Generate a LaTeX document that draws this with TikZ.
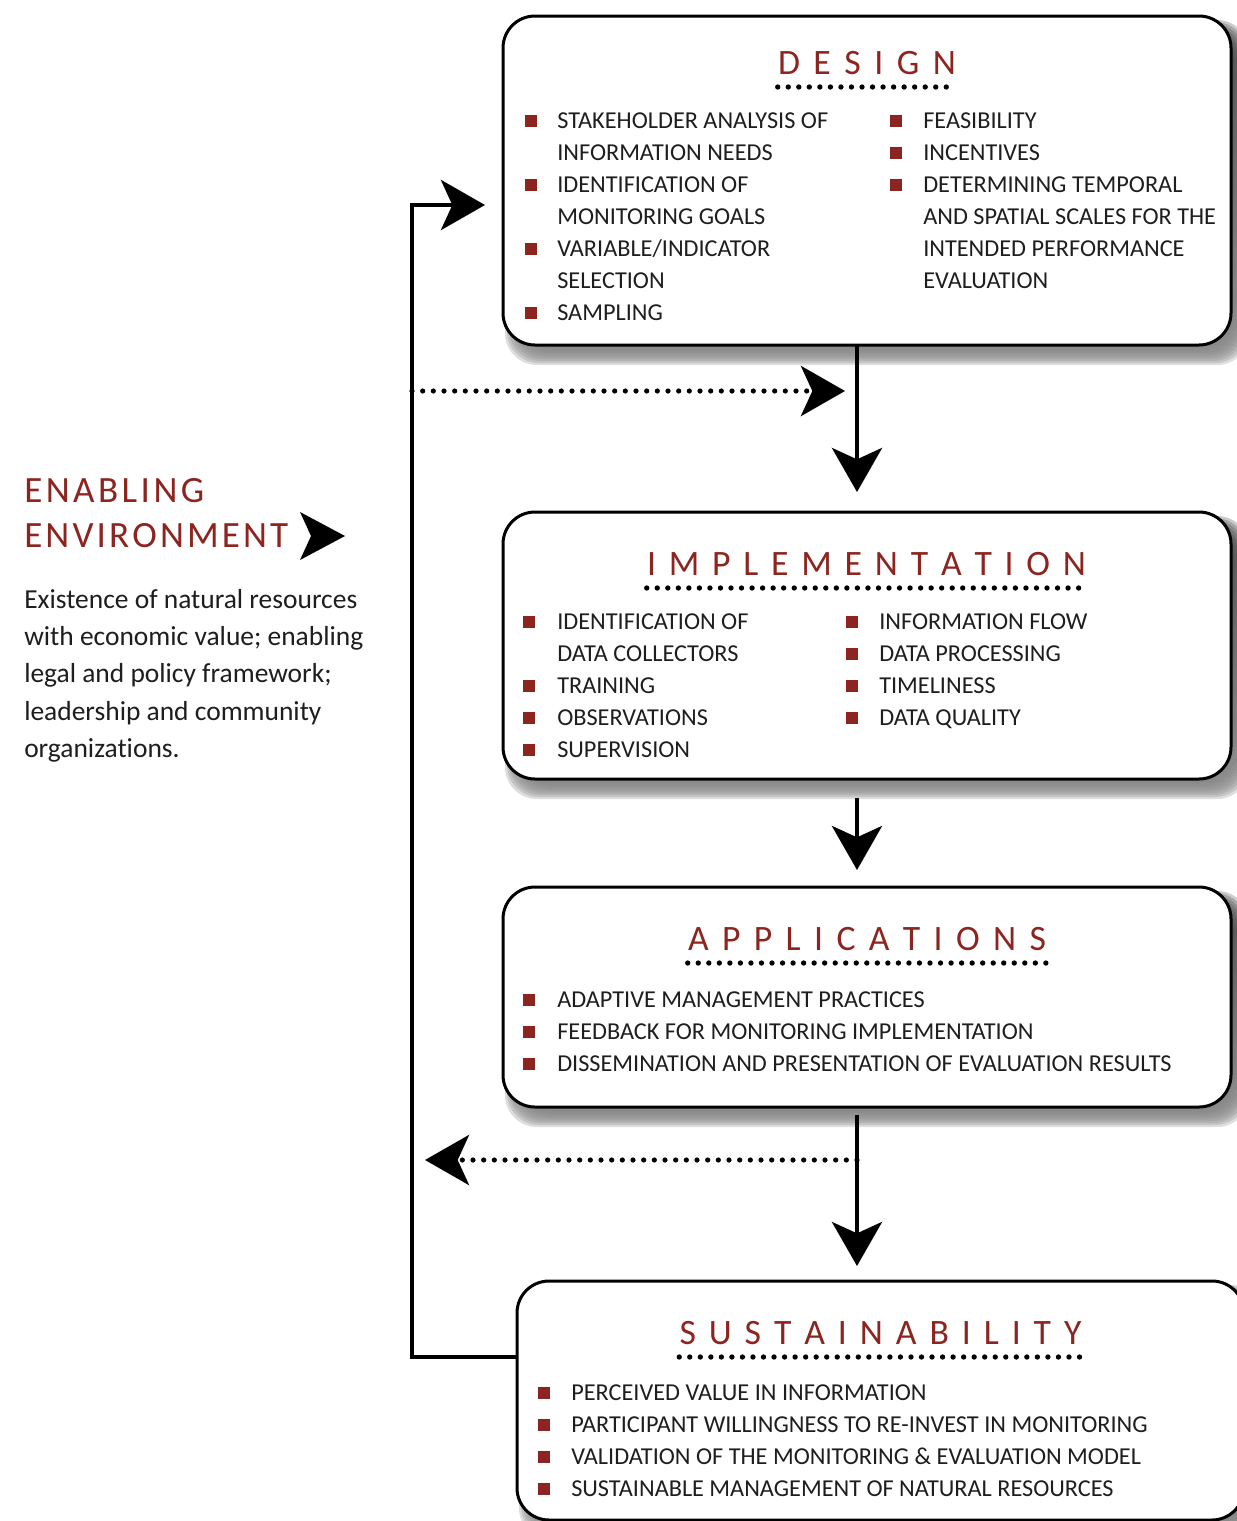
\documentclass[tikz,border=0pt]{standalone}
\usepackage{fontspec}
\setmainfont{Carlito}[Ligatures=NoCommon]
\usetikzlibrary{arrows.meta}
\definecolor{brick}{RGB}{140,37,32}
\definecolor{ink}{RGB}{30,30,30}
\definecolor{shade}{RGB}{150,150,136}

% soft drop shadow behind a stage box (corners given in px)
\newcommand\dropshade[4]{%
  \foreach \g in {8,6,...,-8}{%
    \fill[shade, fill opacity=0.15, rounded corners=24pt]
      ({#1+10-\g},{#2+12-\g}) rectangle ({#3+10+\g},{#4+12+\g});}}
% red square bullet at (x, baseline)
\newcommand\bulletsq[2]{\fill[brick] ({#1},{#2-1.5}) rectangle ++(11.5,-11.5);}
% list line with bullet: name, bullet x, text x, baseline, text
\newcommand\bitem[5]{\bulletsq{#2}{#4}\node[entry] (#1) at (#3,#4) {#5};}
% continuation line: name, text x, baseline, text
\newcommand\citem[4]{\node[entry] (#1) at (#2,#3) {#4};}

\begin{document}
\begin{tikzpicture}[x=0.75pt,y=-0.75pt,
  stage/.style={draw=black, line width=2.25pt, fill=white, rounded corners=24pt,
    inner sep=0pt, outer sep=0pt},
  heading/.style={text=brick, font=\fontsize{26.8}{30}\selectfont, inner sep=0pt, anchor=base},
  sidehead/.style={text=brick, font=\fontsize{27.8}{30}\selectfont, inner sep=0pt, anchor=base west},
  entry/.style={text=ink, font=\fontsize{18.2}{20}\selectfont, inner sep=0pt, anchor=base west},
  prose/.style={text=ink, font=\fontsize{20.6}{22}\selectfont, inner sep=0pt, anchor=base west},
  underdots/.style={line width=4pt, line cap=round, dash pattern=on 0pt off 7.9pt},
  tip/.style={-{Stealth[length=33pt,width=37.5pt,inset=8.5pt]}},
  flow/.style={tip, line width=3.5pt},
  loopline/.style={tip, line width=3.7pt},
  dotflow/.style={tip, line width=3.9pt, line cap=round, dash pattern=on 0pt off 8pt},
]
\useasboundingbox (0,0) rectangle (1237,1521);
\clip (0,0) rectangle (1237,1521);
\fill[white] (0,0) rectangle (1237,1521);

% ---- shadows and stage boxes ----
\dropshade{503}{16}{1231}{345}
\dropshade{503}{512}{1231}{779}
\dropshade{503}{887}{1231}{1107}
\dropshade{517}{1281}{1244}{1520}

\node[stage, minimum width=546pt, minimum height=246.75pt] (design) at (867,180.5) {};
\node[stage, minimum width=546pt, minimum height=200.25pt] (impl) at (867,645.5) {};
\node[stage, minimum width=546pt, minimum height=165pt] (apps) at (867,997) {};
\node[stage, minimum width=545.25pt, minimum height=179.25pt] (sust) at (880.5,1400.5) {};

% ---- stage titles with dotted rules ----
\node[heading] (designT) at (867,74)
  {\makebox[133.5pt][s]{D\hfil E\hfil S\hfil I\hfil G\hfil N}};
\node[heading] (implT) at (866.5,575)
  {\makebox[329.25pt][s]{I\hfil M\hfil P\hfil L\hfil E\hfil M\hfil E\hfil N\hfil T\hfil A\hfil T\hfil I\hfil O\hfil N}};
\node[heading] (appsT) at (867,950)
  {\makebox[268.5pt][s]{A\hfil P\hfil P\hfil L\hfil I\hfil C\hfil A\hfil T\hfil I\hfil O\hfil N\hfil S}};
\node[heading] (sustT) at (880.5,1344)
  {\makebox[301.5pt][s]{S\hfil U\hfil S\hfil T\hfil A\hfil I\hfil N\hfil A\hfil B\hfil I\hfil L\hfil I\hfil T\hfil Y}};
\foreach \t in {designT,implT,appsT,sustT}
  \draw[underdots] ([yshift=-9.75pt]\t.base west) -- ([yshift=-9.75pt]\t.base east);

% ---- design items ----
\bitem{d1}{525}{557}{128}{STAKEHOLDER ANALYSIS OF}
\citem{d2}{557}{160}{INFORMATION NEEDS}
\bitem{d3}{525}{557}{192}{IDENTIFICATION OF}
\citem{d4}{557}{224}{MONITORING GOALS}
\bitem{d5}{525}{557}{256}{VARIABLE/INDICATOR}
\citem{d6}{557}{288}{SELECTION}
\bitem{d7}{525}{557}{320}{SAMPLING}
\bitem{d8}{890}{923}{128}{FEASIBILITY}
\bitem{d9}{890}{923}{160}{INCENTIVES}
\bitem{d10}{890}{923}{192}{DETERMINING TEMPORAL}
\citem{d11}{923}{224}{AND SPATIAL SCALES FOR THE}
\citem{d12}{923}{256}{INTENDED PERFORMANCE}
\citem{d13}{923}{288}{EVALUATION}

% ---- implementation items ----
\bitem{i1}{523}{557}{629}{IDENTIFICATION OF}
\citem{i2}{557}{661}{DATA COLLECTORS}
\bitem{i3}{523}{557}{693}{TRAINING}
\bitem{i4}{523}{557}{725}{OBSERVATIONS}
\bitem{i5}{523}{557}{757}{SUPERVISION}
\bitem{i6}{846}{879}{629}{INFORMATION FLOW}
\bitem{i7}{846}{879}{661}{DATA PROCESSING}
\bitem{i8}{846}{879}{693}{TIMELINESS}
\bitem{i9}{846}{879}{725}{DATA QUALITY}

% ---- application items ----
\bitem{a1}{523}{557}{1007}{ADAPTIVE MANAGEMENT PRACTICES}
\bitem{a2}{523}{557}{1039}{FEEDBACK FOR MONITORING IMPLEMENTATION}
\bitem{a3}{523}{557}{1071}{DISSEMINATION AND PRESENTATION OF EVALUATION RESULTS}

% ---- sustainability items ----
\bitem{s1}{538}{571}{1400}{PERCEIVED VALUE IN INFORMATION}
\bitem{s2}{538}{571}{1432}{PARTICIPANT WILLINGNESS TO RE-INVEST IN MONITORING}
\bitem{s3}{538}{571}{1464}{VALIDATION OF THE MONITORING \& EVALUATION MODEL}
\bitem{s4}{538}{571}{1496}{SUSTAINABLE MANAGEMENT OF NATURAL RESOURCES}

% ---- enabling environment ----
\node[sidehead] (env1) at (24,502)
  {\makebox[135pt][s]{E\hfil N\hfil A\hfil B\hfil L\hfil I\hfil N\hfil G}};
\node[sidehead] (env2) at (24,547)
  {\makebox[198pt][s]{E\hfil N\hfil V\hfil I\hfil R\hfil O\hfil N\hfil M\hfil E\hfil N\hfil T}};
\fill[black] (300,512) -- (345,536) -- (300,560) -- (311,536) -- cycle;
\node[prose] (p1) at (24,608) {Existence of natural resources};
\node[prose] (p2) at (24,645) {with economic value; enabling};
\node[prose] (p3) at (24,682) {legal and policy framework;};
\node[prose] (p4) at (24,720) {leadership and community};
\node[prose] (p5) at (24,757) {organizations.};

% ---- connectors ----
\coordinate (spine) at (857,0);
\coordinate (loopfoot) at (412,1357);
\coordinate (loophead) at (412,205);
\coordinate (tapin) at (412,391);
\coordinate (tapout) at (857,1160);

\draw[flow, shorten >=15pt] (design.south -| spine) -- (impl.north -| spine);
\draw[flow, shorten <=14.25pt, shorten >=12.75pt] (impl.south -| spine) -- (apps.north -| spine);
\draw[flow, shorten <=6pt, shorten >=11.25pt] (apps.south -| spine) -- (sust.north -| spine);
\draw[loopline, shorten >=13.5pt] (sust.west |- loopfoot) -- (loopfoot) -- (loophead) -- (design.west |- loophead);
\draw[dotflow, shorten >=9pt] (tapin) -- (spine |- tapin);
\draw[dotflow, shorten >=9.75pt] (tapout) -- (loopfoot |- tapout);
\end{tikzpicture}
\end{document}
